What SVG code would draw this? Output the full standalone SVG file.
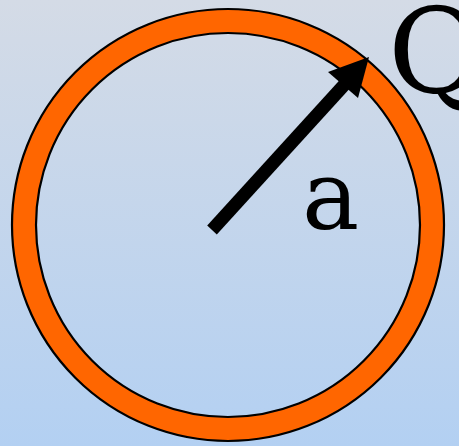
<svg xmlns="http://www.w3.org/2000/svg" width="459" height="446" viewBox="0 0 459 446">
<defs>
<linearGradient id="bg" x1="0" y1="0" x2="0" y2="1">
<stop offset="0" stop-color="#d4dbe6"/>
<stop offset="1" stop-color="#b3d0f2"/>
</linearGradient>
</defs>
<rect width="459" height="446" fill="url(#bg)"/>
<g id="ring">
<path d="M12,225 a216,216 0 1,0 432,0 a216,216 0 1,0 -432,0 Z M36,225 a192,192 0 1,0 384,0 a192,192 0 1,0 -384,0 Z" fill="#ff6600" fill-rule="evenodd" stroke="#000" stroke-width="2.2"/>
</g>
<g id="connectors">
<line x1="212" y1="230" x2="345" y2="84" stroke="#000" stroke-width="13"/>
<polygon points="369,57 358,98 328,72" fill="#000"/>
</g>
<g id="label-a"><text x="302" y="229" font-family="'DejaVu Serif', serif" font-size="96" fill="#000">a</text></g>
<g id="label-Q"><text x="388" y="92" font-family="'DejaVu Serif', serif" font-size="118" fill="#000">Q</text></g>
</svg>
